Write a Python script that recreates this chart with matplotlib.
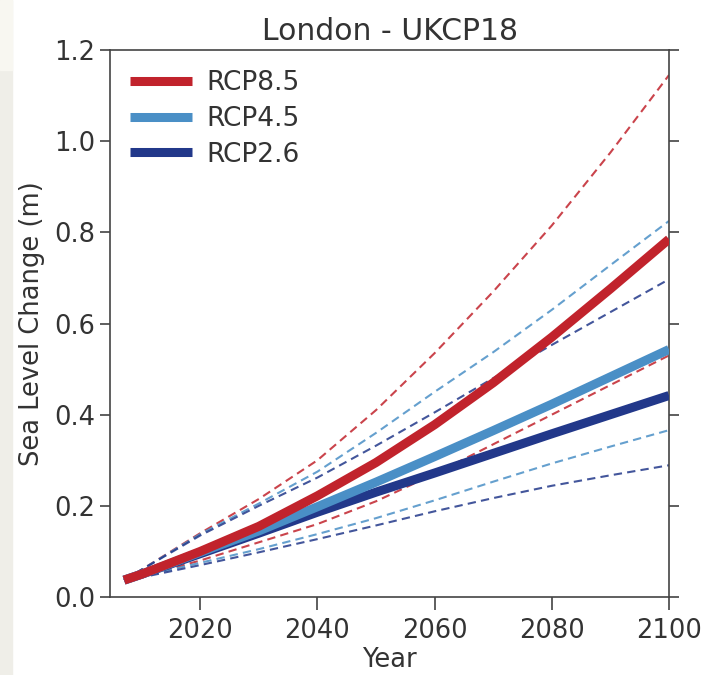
import matplotlib
matplotlib.use("Agg")
import matplotlib.pyplot as plt
from matplotlib.patches import Rectangle

# values (sea level change in metres)
years = [2007, 2010, 2020, 2030, 2040, 2050, 2060, 2070, 2080, 2090, 2100]

rcp85_mid = [0.037, 0.050, 0.100, 0.155, 0.222, 0.295, 0.378, 0.470, 0.570, 0.676, 0.785]
rcp85_hi = [0.037, 0.060, 0.140, 0.215, 0.300, 0.410, 0.535, 0.670, 0.815, 0.975, 1.145]
rcp85_lo = [0.037, 0.045, 0.080, 0.120, 0.160, 0.210, 0.270, 0.335, 0.400, 0.465, 0.530]

rcp45_mid = [0.037, 0.050, 0.098, 0.145, 0.198, 0.252, 0.308, 0.365, 0.423, 0.483, 0.543]
rcp45_hi = [0.037, 0.060, 0.138, 0.205, 0.275, 0.360, 0.450, 0.537, 0.630, 0.728, 0.825]
rcp45_lo = [0.037, 0.045, 0.075, 0.105, 0.138, 0.173, 0.212, 0.253, 0.293, 0.330, 0.366]

rcp26_mid = [0.037, 0.050, 0.095, 0.140, 0.186, 0.230, 0.272, 0.315, 0.358, 0.400, 0.442]
rcp26_hi = [0.037, 0.060, 0.135, 0.200, 0.262, 0.332, 0.405, 0.480, 0.553, 0.625, 0.697]
rcp26_lo = [0.037, 0.043, 0.070, 0.098, 0.127, 0.157, 0.188, 0.217, 0.244, 0.267, 0.289]

labels = ["RCP8.5", "RCP4.5", "RCP2.6"]
colors = ["#c1232c", "#4a8fc6", "#22388a"]
yticks = [0.0, 0.2, 0.4, 0.6, 0.8, 1.0, 1.2]
xticks = [2020, 2040, 2060, 2080, 2100]

TEXT = "#333333"

fig = plt.figure(figsize=(7.1, 6.75), dpi=100)
# light strip on the left edge of the screenshot
fig.patches.append(Rectangle((0, 0), 12 / 710, 1, transform=fig.transFigure,
                             color="#efeee8", zorder=0))
fig.patches.append(Rectangle((0, 1 - 70 / 675), 12 / 710, 70 / 675,
                             transform=fig.transFigure, color="#f8f7f1", zorder=0))

ax = fig.add_axes([110 / 710, 78 / 675, 559 / 710, 547 / 675])

series = [
    (rcp85_mid, rcp85_hi, rcp85_lo),
    (rcp45_mid, rcp45_hi, rcp45_lo),
    (rcp26_mid, rcp26_hi, rcp26_lo),
]

# dashed ranges first, thick central estimates on top
for (mid, hi, lo), c in zip(series, colors):
    for band in (hi, lo):
        ax.plot(years, band, color=c, lw=1.5, ls=(0, (4, 2.5)), alpha=0.85, zorder=2)

for (mid, hi, lo), c, lab in zip(series[::-1], colors[::-1], labels[::-1]):
    ax.plot(years, mid, color=c, lw=6.5, solid_capstyle="butt", label=lab, zorder=3)

ax.set_xlim(2004.6, 2100)
ax.set_ylim(0, 1.2)
ax.set_xticks(xticks)
ax.set_yticks(yticks)
ax.set_yticklabels([f"{v:.1f}" for v in yticks])

ax.tick_params(axis="both", labelsize=18.5, colors=TEXT, length=7, width=1.1,
               direction="out", right=True, labelright=False)
ax.tick_params(axis="x", length=9, pad=6)
for s in ax.spines.values():
    s.set_color("#444444")
    s.set_linewidth(1.2)

ax.set_xlabel("Year", fontsize=18.5, color=TEXT, labelpad=2)
ax.set_ylabel("Sea Level Change (m)", fontsize=18.5, color=TEXT, labelpad=7)
ax.set_title("London - UKCP18", fontsize=21.5, color=TEXT, pad=7)

handles, labs = ax.get_legend_handles_labels()
order = [labs.index(l) for l in labels]
ax.legend([handles[i] for i in order], labels, loc="upper left", frameon=False,
          fontsize=19, handlelength=2.35, handletextpad=0.53, labelspacing=0.37,
          borderaxespad=0.36, labelcolor=TEXT)

fig.savefig("out.png", dpi=100)
